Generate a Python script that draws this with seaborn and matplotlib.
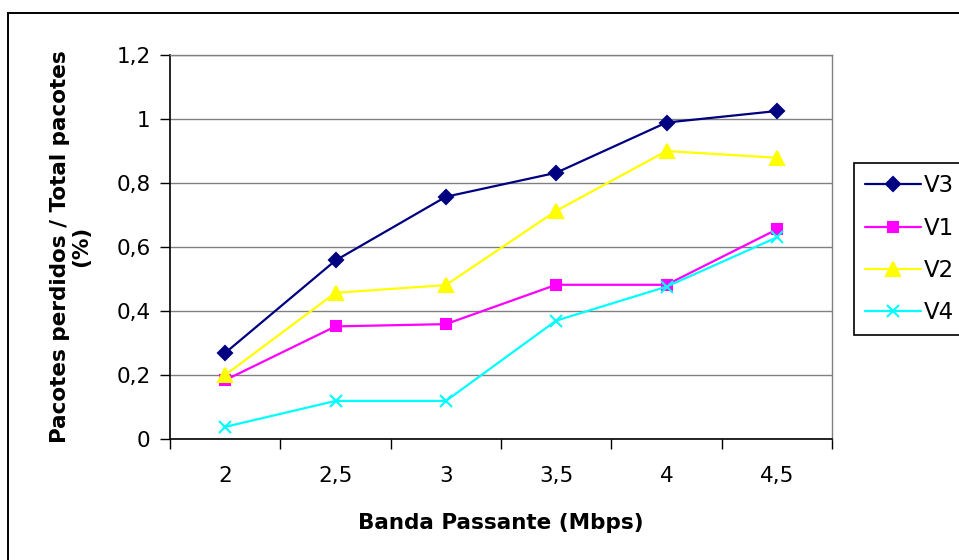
import numpy as np
import pandas as pd
import matplotlib
matplotlib.use("Agg")
import matplotlib.pyplot as plt
from matplotlib.patches import Rectangle
from matplotlib.ticker import FixedLocator, FuncFormatter
import seaborn as sns

# ---- data ----
banda = [2.0, 2.5, 3.0, 3.5, 4.0, 4.5]
banda_labels = ["2", "2,5", "3", "3,5", "4", "4,5"]
v3 = [0.268, 0.557, 0.756, 0.831, 0.988, 1.024]
v1 = [0.183, 0.351, 0.358, 0.481, 0.481, 0.654]
v2 = [0.199, 0.456, 0.480, 0.712, 0.899, 0.878]
v4 = [0.037, 0.118, 0.118, 0.369, 0.475, 0.629]
series_names = ["V3", "V1", "V2", "V4"]
y_ticks = [0, 0.2, 0.4, 0.6, 0.8, 1.0, 1.2]
x_title = "Banda Passante (Mbps)"
y_title = "Pacotes perdidos / Total pacotes\n(%)"

df = pd.DataFrame({
    "banda": banda * 4,
    "valor": v3 + v1 + v2 + v4,
    "serie": sum([[n] * len(banda) for n in series_names], []),
})

styles = {
    "V3": dict(color="#000080", marker="D", markersize=7.5),
    "V1": dict(color="#FF00FF", marker="s", markersize=7.8),
    "V2": dict(color="#FFFF00", marker="^", markersize=10.5),
    "V4": dict(color="#00FFFF", marker="x", markersize=9),
}

sns.set_theme(style="white")
plt.rcParams["font.family"] = ["DejaVu Sans"]

W, H = 959, 560
fig = plt.figure(figsize=(W / 100, H / 100), dpi=100)
fig.patch.set_facecolor("white")

left_px, right_px, top_px, bottom_px = 170, 832, 54.7, 438.7
ax = fig.add_axes([left_px / W, 1 - bottom_px / H,
                   (right_px - left_px) / W, (bottom_px - top_px) / H])

for name in series_names:
    st = styles[name]
    sub = df[df["serie"] == name]
    sns.lineplot(data=sub, x="banda", y="valor", ax=ax, label=name,
                 color=st["color"], marker=st["marker"],
                 markersize=st["markersize"], markeredgecolor=st["color"],
                 markerfacecolor=st["color"], markeredgewidth=1.5,
                 linewidth=1.6, clip_on=False)

ax.set_ylim(0, 1.2)
ax.set_xlim(1.75, 4.75)

TICK_FS = 15.5
LABEL_FS = 15.5

# y axis
ax.yaxis.set_major_locator(FixedLocator(y_ticks))
ax.yaxis.set_major_formatter(FuncFormatter(lambda v, p: f"{v:g}".replace(".", ",")))
ax.tick_params(axis="y", which="major", direction="out", length=7, width=1,
               color="black", pad=7, labelsize=TICK_FS, labelcolor="black", left=True)
ax.yaxis.grid(True, color="#808080", linewidth=1)
ax.set_axisbelow(True)

# x axis: ticks at category boundaries, labels centered
bounds = [b - 0.25 for b in banda] + [banda[-1] + 0.25]
ax.xaxis.set_major_locator(FixedLocator(bounds))
ax.xaxis.set_major_formatter(FuncFormatter(lambda v, p: ""))
ax.set_xticks(banda, minor=True)
ax.set_xticklabels(banda_labels, minor=True)
ax.tick_params(axis="x", which="major", direction="out", length=7, width=1,
               color="black", bottom=True)
ax.tick_params(axis="x", which="minor", length=0, pad=20, labelsize=TICK_FS,
               labelcolor="black", bottom=True)

for s in ["left", "bottom"]:
    ax.spines[s].set_color("black")
    ax.spines[s].set_linewidth(1.2)
for s in ["top", "right"]:
    ax.spines[s].set_color("#808080")
    ax.spines[s].set_linewidth(1)
    ax.spines[s].set_visible(True)

ax.set_xlabel(x_title, fontsize=LABEL_FS, fontweight="bold", va="center",
              color="black")
ax.xaxis.set_label_coords(0.5, (bottom_px - 523) / (bottom_px - top_px))
ax.set_ylabel(y_title, fontsize=LABEL_FS, fontweight="bold", va="center",
              ha="center", multialignment="center", linespacing=1.05,
              color="black")
ax.yaxis.set_label_coords((70.5 - left_px) / (right_px - left_px), 0.5)
ax.yaxis.label.set_rotation_mode("anchor")

# legend
handles, labels = ax.get_legend_handles_labels()
leg = ax.legend(handles, labels, loc="upper left",
                bbox_to_anchor=(854.3 / W, 1 - 163.3 / H),
                bbox_transform=fig.transFigure, borderaxespad=0,
                fontsize=16.5, frameon=True, fancybox=False, shadow=False,
                handlelength=2.45, handletextpad=0.12, labelspacing=0.84,
                borderpad=0.48)
leg.get_frame().set_edgecolor("black")
leg.get_frame().set_linewidth(1.2)
leg.get_frame().set_alpha(1)
for t in leg.get_texts():
    t.set_color("black")

# outer chart border
fig.patches.append(Rectangle((8 / W, -0.5), 2, 0.5 + 1 - 12.7 / H,
                             transform=fig.transFigure, fill=False,
                             edgecolor="black", linewidth=1.4, zorder=0))

fig.savefig("out.png", dpi=100, facecolor="white")
